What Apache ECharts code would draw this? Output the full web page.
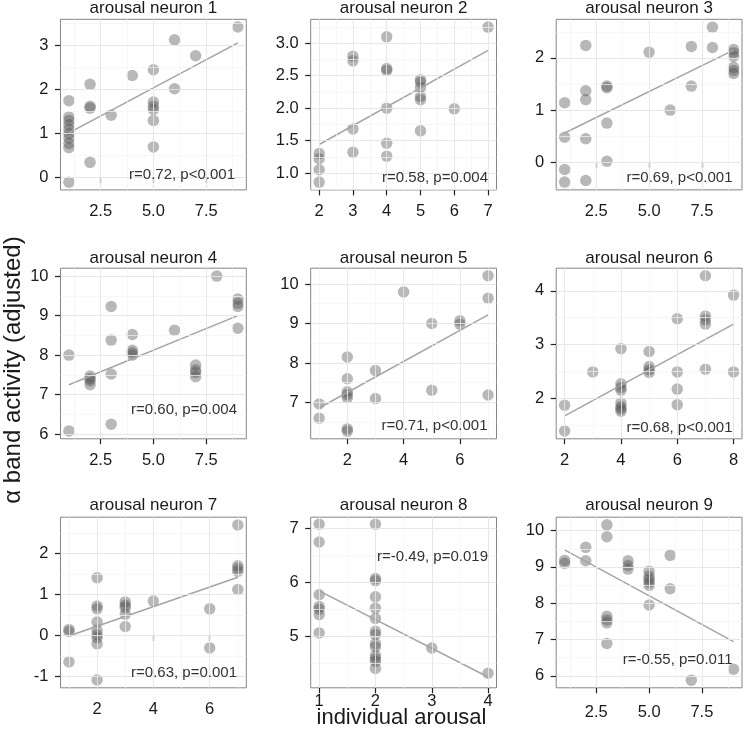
<!DOCTYPE html>
<html>
<head>
<meta charset="utf-8">
<script src="https://cdn.jsdelivr.net/npm/echarts@6/dist/echarts.min.js"></script>
<style>html,body{margin:0;padding:0;background:#fff}#c{width:747px;height:737px}</style>
</head>
<body>
<div id="c"></div>
<script>
// ---------- data ----------
const panelTitles = ['arousal neuron 1','arousal neuron 2','arousal neuron 3','arousal neuron 4','arousal neuron 5','arousal neuron 6','arousal neuron 7','arousal neuron 8','arousal neuron 9'];
const statLabels = ['r=0.72, p<0.001','r=0.58, p=0.004','r=0.69, p<0.001','r=0.60, p=0.004','r=0.71, p<0.001','r=0.68, p<0.001','r=0.63, p=0.001','r=-0.49, p=0.019','r=-0.55, p=0.011'];
const xAxisTitle = 'individual arousal';
const yAxisTitle = 'α band activity (adjusted)';

const n1X = [1,1,1,1,1,1,1,1,1,1, 2,2,2,2, 3, 4, 5,5,5,5,5,5, 6,6, 7, 9];
const n1Y = [1.75,1.38,1.3,1.2,1.1,1.0,0.9,0.78,0.68,-0.1, 2.12,1.62,1.58,0.35, 1.42, 2.32, 2.45,1.72,1.62,1.55,1.3,0.7, 3.13,2.02, 2.77, 3.42];
const n2X = [2,2,2,2, 3,3,3,3, 4,4,4,4,4,4, 5,5,5,5,5,5, 6, 7];
const n2Y = [1.3,1.22,1.05,0.86, 2.8,2.73,1.68,1.32, 3.1,2.61,2.58,2.0,1.46,1.26, 2.44,2.4,2.32,2.18,2.13,1.65, 1.99, 3.25];
const n3X = [1,1,1,1, 2,2,2,2,2, 3,3,3,3, 5, 6, 7,7, 8,8, 9,9,9,9,9,9];
const n3Y = [1.14,0.48,-0.14,-0.38, 2.24,1.37,1.2,0.45,-0.35, 1.46,1.43,0.75,0.02, 2.11, 1.0, 2.22,1.46, 2.59,2.2, 2.16,2.1,2.03,1.82,1.76,1.7];
const n4X = [1,1, 2,2,2,2, 3,3,3,3, 4,4,4,4, 6, 7,7,7,7, 8, 9,9,9,9];
const n4Y = [8.0,6.08, 7.47,7.4,7.35,7.25, 9.23,8.38,7.52,6.25, 8.52,8.12,8.06,8.0, 8.63, 7.75,7.62,7.56,7.45, 10.0, 9.42,9.31,9.23,8.68];
const n5X = [1,1, 2,2,2,2,2,2,2, 3,3, 4, 5,5, 6,6, 7,7,7];
const n5Y = [6.96,6.6, 8.15,7.6,7.27,7.2,7.12,6.33,6.27, 7.81,7.1, 9.8, 9.0,7.31, 9.07,8.98, 10.21,9.64,7.19];
const n6X = [2,2, 3, 4,4,4,4,4,4,4,4, 5,5,5,5, 6,6,6,6, 7,7,7,7,7, 8,8];
const n6Y = [1.87,1.39, 2.49, 2.92,2.27,2.2,2.15,1.91,1.84,1.8,1.76, 2.87,2.59,2.53,2.48, 3.48,2.49,2.17,1.88, 4.28,3.53,3.46,3.38,2.54, 3.92,2.49];
const n7X = [1,1,1, 2,2,2,2,2,2,2,2,2, 3,3,3,3,3, 4, 6,6, 7,7,7,7,7];
const n7Y = [0.15,0.1,-0.64, 1.41,0.72,0.65,0.33,0.13,0.02,-0.05,-0.2,-1.08, 0.82,0.74,0.68,0.52,0.22, 0.84, 0.65,-0.3, 2.69,1.7,1.63,1.56,1.12];
const n8X = [1,1,1,1,1,1,1, 2,2,2,2,2,2,2,2,2,2,2,2,2,2, 3, 4];
const n8Y = [7.08,6.75,5.77,5.55,5.5,5.4,5.06, 7.08,6.07,6.03,5.73,5.52,5.33,5.09,5.03,4.86,4.8,4.64,4.58,4.53,4.4, 4.78, 4.31];
const n9X = [1,1, 2,2, 3,3,3,3,3,3, 4,4,4, 5,5,5,5,5,5, 6,6, 7, 9];
const n9Y = [9.18,9.1, 9.54,9.17, 10.16,9.83,7.64,7.54,7.46,6.89, 9.17,9.04,8.94, 8.88,8.74,8.66,8.58,8.49,7.95, 9.32,8.4, 5.88, 6.18];

// fitted regression line end points
const fit1X = [1,9], fit1Y = [1.02,3.06];
const fit2X = [2,7], fit2Y = [1.44,2.89];
const fit3X = [1,9], fit3Y = [0.56,2.15];
const fit4X = [1,9], fit4Y = [7.25,9.0];
const fit5X = [1,7], fit5Y = [6.86,9.22];
const fit6X = [2,8], fit6Y = [1.67,3.38];
const fit7X = [1,7], fit7Y = [-0.01,1.42];
const fit8X = [1,4], fit8Y = [5.84,4.24];
const fit9X = [1,9], fit9Y = [9.47,6.94];

// tick values
const x1Ticks = [2.5,5.0,7.5], y1Ticks = [0,1,2,3];
const x2Ticks = [2,3,4,5,6,7],  y2Ticks = [1.0,1.5,2.0,2.5,3.0];
const x3Ticks = [2.5,5.0,7.5], y3Ticks = [0,1,2];
const x4Ticks = [2.5,5.0,7.5], y4Ticks = [6,7,8,9,10];
const x5Ticks = [2,4,6],       y5Ticks = [7,8,9,10];
const x6Ticks = [2,4,6,8],     y6Ticks = [2,3,4];
const x7Ticks = [2,4,6],       y7Ticks = [-1,0,1,2];
const x8Ticks = [1,2,3,4],     y8Ticks = [5,6,7];
const x9Ticks = [2.5,5.0,7.5], y9Ticks = [6,7,8,9,10];

// axis limits
const xLimits = [[0.6,9.4],[1.75,7.25],[0.6,9.4],[0.6,9.4],[0.7,7.3],[1.7,8.3],[0.7,7.3],[0.85,4.15],[0.6,9.4]];
const yLimits = [[-0.276,3.596],[0.74,3.37],[-0.53,2.74],[5.88,10.2],[6.08,10.4],[1.245,4.42],[-1.27,2.88],[4.04,7.21],[5.67,10.37]];

// ---------- layout ----------
const colLeft = [60.5, 310.7, 556.2];
const colWidth = 185.8;
const rowTop = [19.3, 268.2, 517.2];
const rowHeight = 170.6;
const titleY = [8.7, 258.3, 505];
const xLabelMargin = [13,13,13, 13,13,13, 13,5,16];
const statPos = [[235,175],[488,178],[732.5,178],[237,410],[487.5,426],[732.5,427.5],[237,673],[488,557],[732.5,660]];

const FONT = '"Liberation Sans", Arial, Helvetica, sans-serif';

const panels = [
  {x:n1X,y:n1Y,fx:fit1X,fy:fit1Y,xt:x1Ticks,yt:y1Ticks},
  {x:n2X,y:n2Y,fx:fit2X,fy:fit2Y,xt:x2Ticks,yt:y2Ticks},
  {x:n3X,y:n3Y,fx:fit3X,fy:fit3Y,xt:x3Ticks,yt:y3Ticks},
  {x:n4X,y:n4Y,fx:fit4X,fy:fit4Y,xt:x4Ticks,yt:y4Ticks},
  {x:n5X,y:n5Y,fx:fit5X,fy:fit5Y,xt:x5Ticks,yt:y5Ticks},
  {x:n6X,y:n6Y,fx:fit6X,fy:fit6Y,xt:x6Ticks,yt:y6Ticks},
  {x:n7X,y:n7Y,fx:fit7X,fy:fit7Y,xt:x7Ticks,yt:y7Ticks},
  {x:n8X,y:n8Y,fx:fit8X,fy:fit8Y,xt:x8Ticks,yt:y8Ticks},
  {x:n9X,y:n9Y,fx:fit9X,fy:fit9Y,xt:x9Ticks,yt:y9Ticks}
];

function decimals(ticks){ return ticks.some(v => Math.abs(v - Math.round(v)) > 1e-9) ? 1 : 0; }
function minorBreaks(ticks, lim){
  const s = ticks.length > 1 ? ticks[1]-ticks[0] : 1;
  const out = [];
  out.push(ticks[0] - s/2);
  for (let i=0;i<ticks.length-1;i++) out.push((ticks[i]+ticks[i+1])/2);
  out.push(ticks[ticks.length-1] + s/2);
  return out.filter(v => v > lim[0] && v < lim[1]);
}

const grids = [], xAxes = [], yAxes = [], series = [], graphics = [];
const MAJOR = {color:'#e4e4e4', width:0.9, type:'solid'};
const MINOR = {color:'#f3f3f3', width:0.7, type:'solid'};

panels.forEach((p, i) => {
  const r = Math.floor(i/3), c = i % 3;
  grids.push({left: colLeft[c], top: rowTop[r], width: colWidth, height: rowHeight,
    show: true, backgroundColor: '#ffffff', borderColor: '#858585', borderWidth: 1,
    containLabel: false, outerBoundsMode: 'none'});
  const xd = decimals(p.xt), yd = decimals(p.yt);
  const axisCommon = {
    type: 'value', gridIndex: i,
    axisLine: {show: false},
    splitLine: {show: false},
    minorSplitLine: {show: false}
  };
  xAxes.push(Object.assign({}, axisCommon, {
    min: xLimits[i][0], max: xLimits[i][1],
    axisTick: {show: true, inside: false, length: 5.5, customValues: p.xt, lineStyle: {color: '#222', width: 1.2}},
    axisLabel: {show: true, customValues: p.xt, margin: xLabelMargin[i], fontSize: 16.5, color: '#1a1a1a', fontFamily: FONT,
      formatter: v => Number(v).toFixed(xd)}
  }));
  yAxes.push(Object.assign({}, axisCommon, {
    min: yLimits[i][0], max: yLimits[i][1],
    axisTick: {show: true, inside: false, length: 5.5, customValues: p.yt, lineStyle: {color: '#222', width: 1.2}},
    axisLabel: {show: true, customValues: p.yt, margin: 12, fontSize: 16.5, color: '#1a1a1a', fontFamily: FONT,
      formatter: v => Number(v).toFixed(yd)}
  }));

  // background grid (minor + major)
  const gl = [];
  minorBreaks(p.xt, xLimits[i]).forEach(v => gl.push({xAxis: v, lineStyle: MINOR}));
  minorBreaks(p.yt, yLimits[i]).forEach(v => gl.push({yAxis: v, lineStyle: MINOR}));
  p.xt.forEach(v => gl.push({xAxis: v, lineStyle: MAJOR}));
  p.yt.forEach(v => gl.push({yAxis: v, lineStyle: MAJOR}));
  series.push({
    type: 'line', xAxisIndex: i, yAxisIndex: i, z: 1,
    data: p.fx.map((v,k) => [v, p.fy[k]]),
    symbol: 'none', lineStyle: {opacity: 0, width: 0}, silent: true,
    markLine: {silent: true, symbol: ['none','none'], label: {show: false},
      emphasis: {disabled: true}, animation: false, data: gl}
  });
  // points
  series.push({
    type: 'scatter', xAxisIndex: i, yAxisIndex: i, z: 3,
    data: p.x.map((v,k) => [v, p.y[k]]),
    symbol: 'circle', symbolSize: 11.5,
    itemStyle: {color: 'rgba(77,77,77,0.5)', borderWidth: 0},
    emphasis: {disabled: true}
  });
  // regression line
  series.push({
    type: 'line', xAxisIndex: i, yAxisIndex: i, z: 4,
    data: p.fx.map((v,k) => [v, p.fy[k]]),
    symbol: 'none', lineStyle: {color: '#a4a4a4', width: 1.5},
    emphasis: {disabled: true}, silent: true
  });

  // panel title
  graphics.push({type: 'text', x: colLeft[c] + colWidth/2, y: titleY[r], z: 10,
    style: {text: panelTitles[i], font: '17px ' + FONT, fill: '#1a1a1a', textAlign: 'center', textVerticalAlign: 'middle'}});
  // stat text
  graphics.push({type: 'text', x: statPos[i][0], y: statPos[i][1], z: 10,
    style: {text: statLabels[i], font: '15px ' + FONT, fill: '#333333', textAlign: 'right', textVerticalAlign: 'middle'}});
});

graphics.push({type: 'text', x: 401.5, y: 718, z: 10,
  style: {text: xAxisTitle, font: '22px ' + FONT, fill: '#1a1a1a', textAlign: 'center', textVerticalAlign: 'middle'}});
graphics.push({type: 'text', x: 13, y: 370, rotation: Math.PI/2, z: 10,
  style: {text: yAxisTitle, font: '24px ' + FONT, fill: '#1a1a1a', textAlign: 'center', textVerticalAlign: 'middle'}});

const chart = echarts.init(document.getElementById('c'), null, {renderer: 'canvas'});
chart.setOption({
  backgroundColor: '#ffffff',
  animation: false,
  grid: grids,
  xAxis: xAxes,
  yAxis: yAxes,
  series: series,
  graphic: {elements: graphics}
});
</script>
</body>
</html>
